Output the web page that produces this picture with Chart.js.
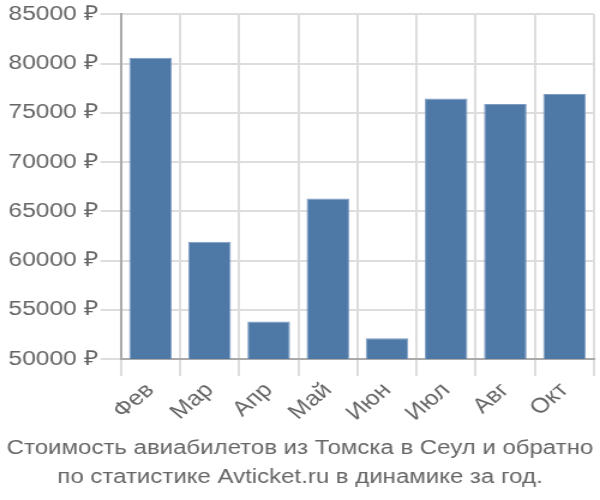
<!DOCTYPE html>
<html>
<head>
<meta charset="utf-8">
<script src="https://cdn.jsdelivr.net/npm/chart.js@4"></script>
<style>
  html, body { margin: 0; padding: 0; background: #fff; overflow: hidden; }
  #wrap { width: 500px; height: 500px; transform: scaleX(1.2); transform-origin: 0 0; }
</style>
</head>
<body>
<div id="wrap"><canvas id="chart"></canvas></div>
<script>
var months = ['Фев', 'Мар', 'Апр', 'Май', 'Июн', 'Июл', 'Авг', 'Окт'];
var prices = [80600, 61900, 53800, 66300, 52100, 76450, 75900, 76900];
var titleLines = ['Стоимость авиабилетов из Томска в Сеул и обратно', 'по статистике Avticket.ru в динамике за год.'];

Chart.defaults.font.family = '"Liberation Sans", Arial, sans-serif';
Chart.defaults.color = '#666';

var ctx = document.getElementById('chart').getContext('2d');
new Chart(ctx, {
  type: 'bar',
  data: {
    labels: months,
    datasets: [{
      data: prices,
      backgroundColor: '#4e79a7',
      borderColor: '#7d9cc4',
      borderWidth: 1,
      categoryPercentage: 1,
      barPercentage: 0.72
    }]
  },
  options: {
    responsive: true,
    maintainAspectRatio: false,
    animation: false,
    layout: { padding: { left: 5, right: 5, top: 3, bottom: 8 } },
    plugins: {
      legend: { display: false },
      tooltip: { enabled: false },
      title: {
        display: true,
        position: 'bottom',
        text: titleLines,
        font: { size: 20, weight: 'normal', lineHeight: 1.45 },
        color: '#666',
        padding: { top: 6, bottom: 0 }
      }
    },
    scales: {
      x: {
        grid: { color: '#ddd', lineWidth: 2, tickLength: 17, offset: true },
        border: { color: '#aaa', width: 2 },
        ticks: { font: { size: 21 }, maxRotation: 45, minRotation: 45, color: '#666', padding: 2 }
      },
      y: {
        min: 50000,
        max: 85000,
        grid: { color: '#ddd', lineWidth: 2, tickLength: 17 },
        border: { color: '#aaa', width: 2 },
        ticks: {
          stepSize: 5000,
          font: { size: 20.5 },
          color: '#666',
          padding: 2,
          callback: function(v) { return v + ' ₽'; }
        }
      }
    }
  }
});
</script>
</body>
</html>
